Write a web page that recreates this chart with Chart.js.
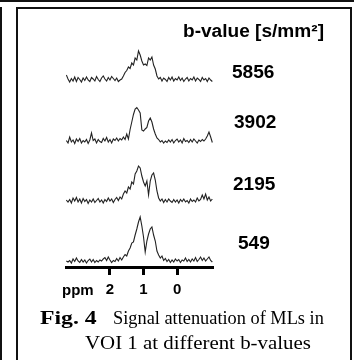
<!DOCTYPE html>
<html>
<head>
<meta charset="utf-8">
<script src="https://cdn.jsdelivr.net/npm/chart.js@4.4.1/dist/chart.umd.min.js"></script>
<style>
  html, body { margin: 0; padding: 0; background: #fff; }
  body { width: 355px; height: 360px; position: relative; overflow: hidden; }
  .line { position: absolute; background: #111; }
  #box { position: absolute; left: 16px; top: 7px; width: 332px; height: 400px; border: 2px solid #111; }
  #wrap { position: absolute; left: 0; top: 0; width: 355px; height: 305px; }
  .lab { position: absolute; white-space: nowrap; font-family: "Liberation Sans", Arial, sans-serif; font-weight: bold; color: #000; transform-origin: 0 0; }
  .big { font-size: 18px; line-height: 20px; transform: scaleX(1.06); }
  .cap { position: absolute; white-space: nowrap; font-family: "Liberation Serif", "Times New Roman", serif; font-size: 19px; line-height: 25px; color: #000; transform-origin: 0 0; }
</style>
</head>
<body>
<div class="line" style="left:0;top:0;width:354px;height:2px"></div>
<div class="line" style="left:0;top:7px;width:2px;height:353px"></div>
<div id="box"></div>
<div id="wrap"><canvas id="c" width="355" height="305"></canvas></div>
<div class="lab big" style="left:183px;top:21px">b-value [s/mm²]</div>
<div id="bl0" class="lab big" style="left:232px;top:62px"></div>
<div id="bl1" class="lab big" style="left:234px;top:112px"></div>
<div id="bl2" class="lab big" style="left:233px;top:174px"></div>
<div id="bl3" class="lab big" style="left:238px;top:233px"></div>
<div class="lab" style="left:62px;top:281px;font-size:15px;line-height:18px">ppm</div>
<div class="cap" style="left:40px;top:305px;font-weight:bold;transform:scaleX(1.25)">Fig. 4</div>
<div class="cap" style="left:113px;top:305px;transform:scaleX(0.965)">Signal attenuation of MLs in</div>
<div class="cap" style="left:85px;top:330px;transform:scaleX(1.1)">VOI 1 at different b-values</div>
<script>
// chemical shift axis (ppm), sampled points of each spectrum
const ppm = [3.30,3.25,3.20,3.15,3.10,3.05,3.00,2.95,2.90,2.85,2.80,2.75,2.70,2.65,2.60,2.55,2.50,2.45,2.40,2.35,2.30,2.25,2.20,2.15,2.10,2.05,2.00,1.95,1.90,1.85,1.80,1.75,1.70,1.65,1.60,1.55,1.50,1.45,1.40,1.35,1.30,1.25,1.20,1.15,1.10,1.05,1.00,0.95,0.90,0.85,0.80,0.75,0.70,0.65,0.60,0.55,0.50,0.45,0.40,0.35,0.30,0.25,0.20,0.15,0.10,0.05,0.00,-0.05,-0.10,-0.15,-0.20,-0.25,-0.30,-0.35,-0.40,-0.45,-0.50,-0.55,-0.60,-0.65,-0.70,-0.75,-0.80,-0.85,-0.90,-0.95,-1.00,-1.05];

const bValues = ['5856', '3902', '2195', '549'];

const sig5856 = [1.0,0.2,-0.4,0.3,-0.2,0.6,-0.3,0.5,0.1,-0.4,0.4,-0.1,0.6,0.0,-0.3,0.5,0.2,-0.2,0.7,0.1,-0.3,0.4,0.8,0.2,-0.2,0.5,0.0,0.7,0.3,-0.1,0.4,-0.3,0.0,0.2,
  0.8,1.5,1.9,2.6,2.3,3.4,3.0,4.4,4.0,5.8,5.0,3.8,3.0,3.2,2.9,4.4,4.0,4.6,3.0,2.2,0.8,0.2,
  0.5,-0.2,0.4,0.1,-0.3,0.5,0.0,0.6,-0.2,0.3,0.0,0.6,-0.1,0.4,-0.3,0.2,0.5,-0.2,0.3,0.0,0.6,-0.2,0.4,0.1,-0.3,0.5,0.0,0.3,-0.3,0.4,0.0,-0.3];

const sig3902 = [0.3,-0.2,1.0,0.0,0.4,-0.3,0.6,0.1,0.7,-0.2,0.3,0.0,0.5,-0.3,0.4,1.8,0.3,0.6,-0.2,0.5,0.1,-0.1,0.7,0.2,0.9,0.0,0.5,-0.2,0.6,0.3,0.8,0.2,0.7,0.4,
  1.0,0.5,1.6,0.6,2.5,4.0,5.5,6.6,6.9,6.4,5.8,2.4,2.2,2.6,2.9,4.2,4.8,4.0,2.6,1.6,0.8,0.5,
  0.0,0.3,-0.2,0.2,-0.1,0.4,0.0,0.5,-0.2,0.3,0.6,0.0,0.4,-0.2,0.7,0.1,0.3,-0.1,0.5,0.0,0.6,0.2,-0.2,0.4,0.1,0.5,0.2,0.6,1.2,2.0,1.0,-0.1];

const sig2195 = [0.4,0.0,0.5,-0.2,0.8,0.2,0.9,0.0,0.6,-0.2,0.7,0.1,0.5,-0.3,0.4,0.0,0.6,-0.1,0.3,0.7,0.0,0.4,-0.2,0.5,0.1,0.8,0.2,0.6,-0.1,0.5,0.9,0.3,1.0,0.6,
  1.6,2.2,1.8,3.0,2.6,4.0,3.6,5.6,6.2,7.2,6.8,5.2,4.0,3.2,4.2,1.4,4.2,5.4,5.8,4.4,2.2,0.8,
  0.2,0.6,-0.1,0.5,0.0,0.6,0.2,-0.1,0.5,0.0,0.4,-0.2,0.5,0.1,0.6,0.0,0.3,-0.2,0.6,0.1,0.4,0.0,0.8,0.2,0.5,1.4,0.6,1.6,0.4,1.0,0.2,0.6];

const sig549 = [0.2,0.0,0.3,-0.2,0.6,0.1,0.8,0.2,-0.1,0.5,0.0,0.4,-0.2,0.3,0.6,0.0,0.5,-0.1,0.3,0.0,0.4,0.2,0.6,0.9,0.3,1.0,0.4,-0.1,0.3,0.1,0.7,0.2,0.9,0.4,
  1.0,1.5,1.2,2.2,2.8,3.8,4.0,5.4,6.6,8.0,9.0,7.2,5.0,2.0,4.2,5.6,6.6,7.0,5.4,4.2,2.2,1.4,
  0.8,1.2,0.3,0.7,0.1,0.5,-0.1,0.4,0.0,0.6,0.2,0.5,-0.1,0.4,0.2,0.8,0.1,0.5,0.0,0.6,0.2,0.9,0.1,0.5,1.0,0.3,0.8,0.2,0.6,1.0,0.3,0.0];

const ppmTicks = [2, 1, 0];

const series = [sig5856, sig3902, sig2195, sig549];
const axisIds = ['yA', 'yB', 'yC', 'yD'];

bValues.forEach((b, i) => { document.getElementById('bl' + i).textContent = b; });

const datasets = series.map((s, i) => ({
  label: bValues[i],
  data: s.map((v, k) => ({ x: ppm[k], y: v })),
  yAxisID: axisIds[i],
  borderColor: '#222',
  borderWidth: 1.1,
  pointRadius: 0,
  tension: 0,
  fill: false
}));

function yAxis(weight, min, max) {
  return {
    type: 'linear', position: 'left', stack: 'spectra', stackWeight: 1, weight: weight,
    min: min, max: max, display: false
  };
}

new Chart(document.getElementById('c'), {
  type: 'line',
  data: { datasets },
  options: {
    responsive: false,
    animation: false,
    devicePixelRatio: 1,
    layout: { padding: { left: 66, right: 142, top: 27, bottom: 6 } },
    plugins: { legend: { display: false }, tooltip: { enabled: false }, title: { display: false } },
    scales: {
      x: {
        type: 'linear', position: 'bottom', reverse: true, min: -1.07, max: 3.31,
        afterBuildTicks: (sc) => { sc.ticks = ppmTicks.map(v => ({ value: v })); },
        afterFit: (sc) => { sc.height = 32; },
        ticks: { color: '#000', font: { family: 'Liberation Sans', size: 15, weight: 'bold' }, padding: 6, maxRotation: 0, autoSkip: false },
        grid: { display: true, drawOnChartArea: false, drawTicks: true, tickLength: 8, tickWidth: 3, tickColor: '#000' },
        border: { display: true, color: '#000', width: 3 }
      },
      yA: yAxis(4, -1.4, 10.6),
      yB: yAxis(3, -1, 11),
      yC: yAxis(2, -1, 11),
      yD: yAxis(1, -1, 11)
    }
  }
});
</script>
</body>
</html>
